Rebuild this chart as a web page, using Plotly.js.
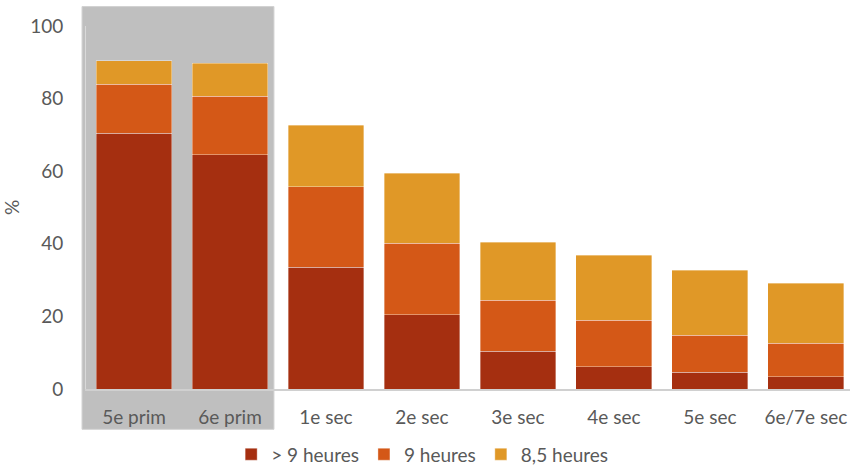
<!DOCTYPE html>
<html>
<head>
<meta charset="utf-8">
<script src="https://cdn.plot.ly/plotly-3.0.1.min.js"></script>
<style>
  html, body { margin: 0; padding: 0; background: #ffffff; }
  #chart { width: 850px; height: 470px; }
</style>
</head>
<body>
<div id="chart"></div>
<script>
// School levels on the x axis
const categories = ['5e prim', '6e prim', '1e sec', '2e sec', '3e sec', '4e sec', '5e sec', '6e/7e sec'];

// Share of pupils (%) by sleep duration, stacked
const over9h  = [70.5, 64.5, 33.6, 20.5, 10.4, 6.1, 4.6, 3.4];
const exact9h = [13.4, 16.1, 22.1, 19.6, 14.0, 12.9, 10.2, 9.2];
const h8_5    = [6.5, 9.2, 16.9, 19.3, 16.0, 17.9, 17.9, 16.5];

const seriesNames = ['> 9 heures', '9 heures', '8,5 heures'];
const seriesColors = ['#a52f10', '#d45817', '#e09827'];

const fontFamily = 'Lato, "Open Sans", sans-serif';
const textColor = '#595959';
const fontSize = 19;

const traces = [over9h, exact9h, h8_5].map((vals, i) => ({
  type: 'bar',
  x: categories,
  y: vals,
  name: seriesNames[i],
  marker: { color: seriesColors[i], line: { color: 'rgba(255,255,255,0.45)', width: 0.8 } },
  hoverinfo: 'x+y+name'
}));

const layout = {
  width: 850,
  height: 470,
  barmode: 'stack',
  bargap: 0.21,
  margin: { l: 86, r: 0, t: 25.5, b: 80.5, autoexpand: false },
  paper_bgcolor: '#ffffff',
  plot_bgcolor: 'rgba(0,0,0,0)',
  font: { family: fontFamily, size: fontSize, color: textColor },
  xaxis: {
    type: 'category',
    range: [-0.5, 7.46],
    showgrid: false,
    zeroline: false,
    showline: true,
    linecolor: '#d0d0d0',
    linewidth: 1.5,
    ticks: '',
    ticklabelstandoff: 11,
    automargin: false,
    tickfont: { family: fontFamily, size: fontSize, color: textColor }
  },
  yaxis: {
    range: [0, 100],
    tickvals: [0, 20, 40, 60, 80, 100],
    showgrid: false,
    zeroline: false,
    showline: true,
    linecolor: '#d9d9d9',
    linewidth: 1,
    ticks: '',
    ticklabelstandoff: 18,
    automargin: false,
    tickfont: { family: fontFamily, size: fontSize, color: textColor },
    title: { text: '%', font: { family: fontFamily, size: fontSize, color: textColor }, standoff: 22 }
  },
  showlegend: true,
  legend: {
    orientation: 'h',
    x: 0.44,
    xanchor: 'center',
    y: -0.18,
    yanchor: 'middle',
    font: { family: fontFamily, size: fontSize, color: textColor },
    itemwidth: 30,
    traceorder: 'normal'
  },
  shapes: [{
    type: 'rect',
    xref: 'paper', yref: 'paper',
    x0: -0.0052, x1: 0.246,
    y0: -0.111, y1: 1.0536,
    fillcolor: '#bfbfbf',
    line: { color: '#d2d2d2', width: 1 },
    layer: 'below'
  }]
};

Plotly.newPlot('chart', traces, layout, { displayModeBar: false, staticPlot: true });
</script>
</body>
</html>
